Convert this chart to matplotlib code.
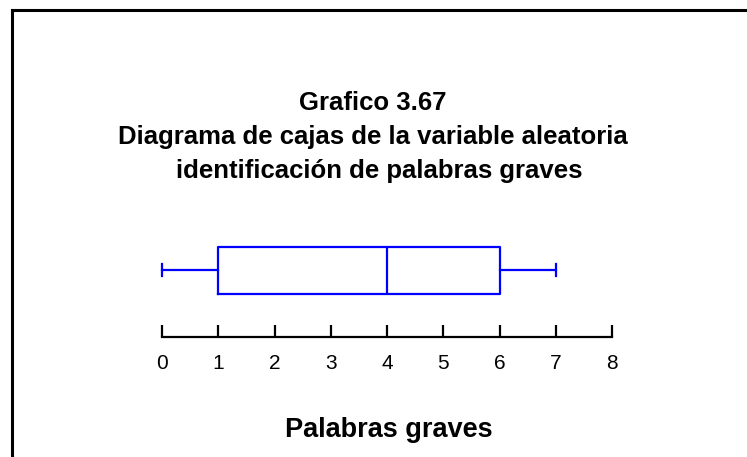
import matplotlib
matplotlib.use("Agg")
import matplotlib.pyplot as plt
from matplotlib.lines import Line2D

plt.rcParams["font.family"] = ["Liberation Sans", "DejaVu Sans"]

# five-number summary of "Palabras graves"
stat_min = 0
stat_q1 = 1
stat_med = 4
stat_q3 = 6
stat_max = 7
xticks = [0, 1, 2, 3, 4, 5, 6, 7, 8]

title_lines = ["Grafico 3.67",
               "Diagrama de cajas de la variable aleatoria",
               "identificación de palabras graves"]
xlabel = "Palabras graves"

W, H = 747, 457
fig = plt.figure(figsize=(W / 100, H / 100), dpi=100)

# axes in pixel terms: x 0..8 -> 162..612, bottom spine at y=337
ax = fig.add_axes([162 / W, (H - 337) / H, 450 / W, 100 / H])

stats = [dict(whislo=stat_min, q1=stat_q1, med=stat_med, q3=stat_q3,
              whishi=stat_max, fliers=[])]
blue = "#0000ff"
parts = ax.bxp(stats, positions=[67], widths=[47], capwidths=[12],
               vert=False, showfliers=False,
               boxprops=dict(color=blue, linewidth=1.6),
               medianprops=dict(color=blue, linewidth=1.6),
               whiskerprops=dict(color=blue, linewidth=1.6),
               capprops=dict(color=blue, linewidth=1.6))
for key in parts:
    for artist in parts[key]:
        artist.set_clip_on(False)
ax.set_xlim(0, 8)
ax.set_ylim(0, 100)

for s in ["top", "left", "right"]:
    ax.spines[s].set_visible(False)
ax.spines["bottom"].set_linewidth(1.6)
ax.set_yticks([])
ax.set_xticks(xticks)
ax.set_xticklabels([str(t) for t in xticks])
ax.tick_params(axis="x", direction="in", length=8.6, width=1.6,
               labelsize=15, pad=12)
ax.patch.set_visible(False)

# titles (third line sits a little right in the original)
title_x = [373, 373, 379]
for i, line in enumerate(title_lines):
    fig.text(title_x[i] / W, 1 - (103 + 34 * i) / H, line,
             ha="center", va="center", fontsize=18.5, fontweight="bold")
fig.text(389 / W, 1 - 430 / H, xlabel, ha="center", va="center",
         fontsize=19.5, fontweight="bold")

# frame (cut off at the right and bottom)
fig.add_artist(Line2D([12 / W, 12 / W], [0, 1 - 10 / H], color="black",
                      linewidth=2.2, transform=fig.transFigure))
fig.add_artist(Line2D([12 / W, 1], [1 - 10 / H, 1 - 10 / H], color="black",
                      linewidth=2.2, transform=fig.transFigure))

fig.savefig("out.png", dpi=100)
